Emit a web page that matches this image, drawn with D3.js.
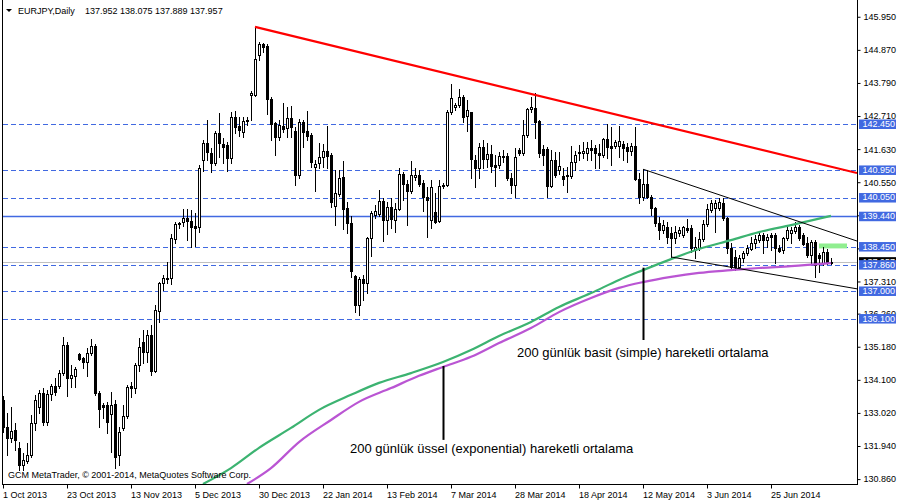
<!DOCTYPE html>
<html><head><meta charset="utf-8">
<script src="https://cdn.jsdelivr.net/npm/d3@7"></script>
<style>
body{margin:0;background:#fff}
svg{display:block}
text{font-family:"Liberation Sans",Arial,sans-serif}
</style>
</head><body>
<svg id="c" width="900" height="500"></svg>
<script>
// ---------------- data ----------------
const opens=[133.44,132.56,132.20,132.46,131.88,131.32,131.45,131.65,132.69,133.21,
133.67,132.72,133.64,133.90,133.90,134.32,135.24,134.16,134.23,134.94,
134.81,134.68,134.98,135.20,133.67,133.28,133.28,132.99,133.31,131.65,
132.53,132.92,133.90,133.83,134.58,135.33,135.01,135.56,134.39,136.35,
137.26,137.39,137.42,138.70,139.19,139.25,139.38,139.28,139.12,139.09,
141.28,141.83,141.50,141.18,142.16,141.80,141.77,141.34,142.68,142.38,
142.19,142.55,143.40,143.40,144.70,145.06,144.99,143.27,142.48,142.03,
142.38,142.32,142.65,142.22,140.79,142.52,142.22,142.09,141.05,141.18,
141.37,141.57,141.44,139.77,140.17,140.72,139.71,139.22,137.49,136.54,
137.39,137.26,138.73,139.48,139.51,139.94,139.32,139.74,139.32,139.68,
140.82,140.49,140.26,140.72,140.79,140.53,140.07,139.32,139.58,139.28,
140.43,140.46,142.84,143.00,143.07,143.33,142.71,142.84,141.28,141.01,
141.70,141.31,141.47,141.11,141.11,141.41,141.41,140.69,140.46,141.60,
141.50,142.09,142.94,142.97,142.55,141.63,141.63,140.43,141.28,140.95,
140.75,140.75,140.75,141.21,141.50,141.50,141.50,141.67,141.67,141.50,
141.44,141.96,141.73,141.73,141.73,141.80,141.70,141.57,141.73,140.66,
140.07,140.49,140.07,139.71,139.22,138.99,139.09,138.89,138.73,138.89,
138.83,139.06,139.06,138.34,138.40,138.70,139.19,139.64,139.71,139.71,
139.87,139.38,138.40,138.11,137.78,138.08,138.24,138.37,138.57,138.66,
138.83,138.66,138.83,138.83,138.40,138.34,138.73,138.89,138.96,139.09,
138.83,138.57,138.17,138.60,138.17,137.92,138.27,137.952];
const highs=[133.57,133.02,133.21,132.69,132.07,131.71,132.04,132.95,133.61,133.77,
133.83,133.77,133.96,134.16,134.42,135.50,135.33,134.58,134.52,134.98,
134.85,135.14,135.43,135.27,133.74,133.34,133.38,133.70,133.44,132.56,
133.28,133.93,134.03,134.65,135.47,135.73,135.73,135.89,136.54,137.29,
137.52,137.95,138.86,139.25,139.25,139.68,139.68,139.64,139.55,141.11,
141.93,142.58,141.67,142.22,142.81,141.99,141.86,142.84,142.87,142.68,
142.68,142.68,143.53,145.62,145.13,145.09,145.06,143.33,142.52,142.58,
143.14,143.01,143.04,142.35,142.61,142.58,142.87,142.16,141.28,141.83,
141.80,142.38,141.50,140.95,140.95,141.24,139.90,139.45,137.52,137.46,
137.52,138.76,139.61,139.81,140.30,140.03,139.90,140.03,139.87,141.01,
140.88,140.62,141.24,141.01,140.95,140.62,140.39,140.62,140.20,140.62,
140.53,142.91,143.76,143.14,143.59,143.40,143.23,142.84,141.44,141.83,
141.93,141.83,141.77,141.44,141.54,141.60,141.50,140.85,141.67,141.67,
142.58,142.97,143.33,143.46,142.58,141.77,141.70,141.60,141.54,141.54,
141.01,141.05,141.73,141.57,141.77,141.86,141.86,141.93,141.77,141.80,
141.99,142.45,142.35,141.93,142.38,141.89,141.83,141.83,142.35,140.85,
140.98,140.95,140.13,139.74,139.41,139.32,139.25,139.09,139.12,139.09,
139.12,139.35,139.15,138.76,138.92,139.32,139.84,139.97,139.97,140.03,
140.03,139.41,138.57,138.34,138.17,138.30,138.50,138.76,138.83,138.92,
138.89,138.86,138.89,138.89,138.50,138.76,139.09,139.09,139.25,139.15,
138.89,138.76,138.66,138.66,138.24,138.44,138.37,138.075];
const lows=[132.40,131.65,132.07,131.81,131.16,131.16,131.39,131.58,132.46,133.02,
132.63,132.63,133.44,133.61,133.83,134.26,133.57,133.87,133.87,134.75,
134.49,134.23,134.91,133.61,132.56,132.85,132.37,131.75,131.22,131.32,
132.46,132.85,133.54,133.67,134.39,134.65,134.68,134.26,134.36,135.99,
137.03,137.26,137.23,138.57,139.06,139.12,138.66,138.43,138.47,138.92,
140.92,141.28,140.88,141.11,141.37,141.18,140.92,141.18,142.16,142.06,
142.03,142.42,142.58,143.36,144.54,144.80,142.78,141.93,141.44,141.93,
142.19,142.03,142.03,140.46,140.69,141.70,141.93,141.05,140.26,141.01,
141.05,141.01,139.74,139.15,140.10,139.02,138.89,137.46,136.31,136.22,
136.71,136.93,138.14,139.38,139.45,138.63,138.86,139.06,138.92,139.64,
139.97,139.15,140.20,140.62,140.43,139.61,138.76,139.06,139.22,139.25,
140.36,140.43,142.78,142.91,143.01,142.52,142.22,140.69,140.39,140.69,
141.01,141.05,140.88,140.43,141.01,141.21,140.62,140.20,140.07,141.44,
141.44,142.03,142.84,141.99,141.37,141.11,140.07,140.39,140.72,140.82,
140.46,140.23,140.69,140.95,141.28,141.34,141.28,141.28,141.01,141.01,
141.37,141.34,141.11,141.67,141.37,141.28,141.21,141.44,140.62,139.87,
139.97,140.03,139.48,139.12,138.70,138.89,138.57,138.11,138.57,138.79,
138.76,138.92,138.27,138.08,138.34,138.63,139.12,139.58,138.92,139.64,
139.32,138.24,137.75,137.69,137.75,137.94,138.18,138.34,138.40,138.60,
138.24,138.44,138.34,137.92,138.27,138.24,138.66,138.57,138.89,138.66,
138.50,138.11,137.92,137.46,137.62,137.85,137.88,137.889];
const closes=[132.56,132.20,132.43,132.14,131.32,131.48,131.65,132.69,133.44,133.67,
132.72,133.64,133.90,133.70,134.32,135.24,134.16,134.26,134.45,134.78,
134.68,134.98,135.20,133.67,133.15,133.21,132.72,133.28,131.58,132.40,
132.92,133.87,133.83,134.58,135.17,135.01,135.56,134.39,136.38,137.26,
137.42,137.42,138.73,139.19,139.22,139.38,139.28,139.09,139.06,141.01,
141.83,141.54,141.18,142.16,141.83,141.70,141.34,142.68,142.35,142.25,
142.55,142.58,143.46,144.57,145.06,144.96,143.27,142.45,142.03,142.42,
142.29,142.65,142.35,140.79,142.52,142.19,142.06,141.21,141.15,141.37,
141.57,141.41,139.90,140.20,140.69,139.68,139.22,137.65,136.54,137.39,
137.26,138.73,139.55,139.61,139.94,139.32,139.74,139.35,139.68,140.82,
140.49,140.26,140.79,140.79,140.49,140.07,139.97,140.39,139.25,140.43,
140.46,142.84,143.30,143.07,143.33,142.68,142.91,141.31,141.01,141.70,
141.31,141.47,141.08,141.05,141.41,141.37,140.69,140.46,141.37,141.50,
142.09,142.94,143.00,142.52,141.50,141.44,140.43,141.28,140.79,141.08,
140.66,140.79,141.21,141.44,141.54,141.57,141.67,141.60,141.50,141.44,
141.96,141.70,141.67,141.86,141.89,141.67,141.57,141.73,140.66,140.07,
140.49,140.07,139.71,139.22,138.99,139.15,138.76,138.73,138.92,138.99,
139.09,138.99,138.40,138.43,138.70,139.19,139.68,139.87,139.87,139.90,
139.38,138.40,137.78,137.78,138.08,138.24,138.40,138.57,138.70,138.83,
138.66,138.76,138.76,138.40,138.30,138.73,138.99,138.99,139.09,138.73,
138.53,138.17,138.60,137.85,138.08,138.27,137.95,137.957];

const tickBars=[0,16,32,48,64,80,96,112,128,144,160,176,192];
const tickLabels=["1 Oct 2013","23 Oct 2013","13 Nov 2013","5 Dec 2013","30 Dec 2013","22 Jan 2014","13 Feb 2014","7 Mar 2014","28 Mar 2014","18 Apr 2014","12 May 2014","3 Jun 2014","25 Jun 2014"];
// price scale labels; those fully covered by the level boxes in the reference get a tick mark only
const priceTicks=[145.95,144.87,143.79,142.71,141.63,140.55,139.47,138.39,137.31,136.26,135.18,134.10,133.02,131.94,130.86];
const hiddenTicks=[139.47,138.39];

const dashedLevels=[142.45,140.95,140.05,138.45,137.86,137.00,136.10];
const solidLevels=[139.44];
const bidPrice=137.957;

const smaBars=[50,57,64,72,79,87,94,102,110,117,124,132,139,147,154,160,167,174,182,189,197,207];
const smaValues=[130.70,131.22,131.88,132.53,133.12,133.61,134.00,134.32,134.68,135.07,135.53,135.99,136.48,136.93,137.36,137.68,138.04,138.37,138.66,138.92,139.15,139.45];
const emaBars=[61,67,74,82,89,97,104,110,117,124,132,139,147,154,160,167,174,182,189,197,207];
const emaValues=[130.70,131.22,132.07,132.79,133.38,133.83,134.23,134.52,134.85,135.30,135.79,136.31,136.77,137.10,137.29,137.46,137.59,137.68,137.75,137.81,137.91];

const redLineBars=[63,213.5], redLinePrices=[145.62,140.85];
const upperWedgeBars=[160.1,213.5], upperWedgePrices=[140.97,138.63];
const lowerWedgeBars=[167,213.5], lowerWedgePrices=[138.11,137.07];
const zoneBars=[204,211], zonePrices=[138.55,138.39];

const noteTexts=["200 günlük basit (simple) hareketli ortalama","200 günlük üssel (exponential) hareketli ortalama"];
const noteLineBars=[160,110];
const noteLineFrom=[137.76,134.55];
const noteLineTo=[135.40,132.14];
const noteTextBars=[128.5,86.75];
const noteTextPrices=[134.85,131.71];

const titleName="EURJPY,Daily";
const titleValues="137.952 138.075 137.889 137.957";
const copyright="GCM MetaTrader, © 2001-2014, MetaQuotes Software Corp.";

// ---------------- chart ----------------
const svg=d3.select("#c");
const x=d3.scaleLinear().domain([0,213.5]).range([3,857]);
const y=d3.scaleLinear().domain([130.86,145.95]).range([479.1,16.76]);
const ry=p=>Math.round(y(p))+0.5;

svg.append("defs").append("clipPath").attr("id","clip")
  .append("rect").attr("x",3).attr("y",0).attr("width",854).attr("height",484);
const plot=svg.append("g").attr("clip-path","url(#clip)");

// horizontal levels
plot.selectAll(".dl").data(dashedLevels).join("line")
  .attr("x1",3).attr("x2",857).attr("y1",d=>ry(d)).attr("y2",d=>ry(d))
  .attr("stroke","#4169e1").attr("stroke-dasharray","5,3").attr("stroke-width",1);
plot.selectAll(".sl").data(solidLevels).join("line")
  .attr("x1",3).attr("x2",857).attr("y1",d=>ry(d)).attr("y2",d=>ry(d))
  .attr("stroke","#4169e1").attr("stroke-width",1.3);
plot.append("line").attr("x1",3).attr("x2",857).attr("y1",ry(bidPrice)).attr("y2",ry(bidPrice))
  .attr("stroke","#c0c0c0").attr("stroke-width",1);

// zone rectangle
plot.append("rect").attr("x",x(zoneBars[0])).attr("width",x(zoneBars[1])-x(zoneBars[0]))
  .attr("y",y(zonePrices[0])).attr("height",y(zonePrices[1])-y(zonePrices[0]))
  .attr("fill","#90ee90");

// candles
const bars=d3.range(opens.length);
const cg=plot.append("g").attr("shape-rendering","crispEdges");
bars.forEach(i=>{
  const cx=Math.round(x(i));
  const o=opens[i],c=closes[i];
  cg.append("line").attr("x1",cx+0.5).attr("x2",cx+0.5)
    .attr("y1",Math.round(y(highs[i]))).attr("y2",Math.round(y(lows[i]))+1)
    .attr("stroke","#000").attr("stroke-width",1);
  const t=Math.round(y(Math.max(o,c))), b=Math.round(y(Math.min(o,c)));
  if(c>o){
    cg.append("rect").attr("x",cx-0.5).attr("y",t+0.5).attr("width",2).attr("height",Math.max(b-t,1))
      .attr("fill","#fff").attr("stroke","#000").attr("stroke-width",1);
  } else {
    cg.append("rect").attr("x",cx-1).attr("y",t).attr("width",3).attr("height",Math.max(b-t,1)+(b-t<1?0:1))
      .attr("fill","#000");
  }
});

// moving averages
const line=d3.line().x(d=>x(d[0])).y(d=>y(d[1])).curve(d3.curveMonotoneX);
plot.append("path").datum(smaBars.map((b,i)=>[b,smaValues[i]])).attr("d",line)
  .attr("fill","none").attr("stroke","#3cb371").attr("stroke-width",2.2);
plot.append("path").datum(emaBars.map((b,i)=>[b,emaValues[i]])).attr("d",line)
  .attr("fill","none").attr("stroke","#ba55d3").attr("stroke-width",2.2);

// trend lines
const seg=(bs,ps)=>bs.map((b,i)=>[b,ps[i]]);
const sline=d3.line().x(d=>x(d[0])).y(d=>y(d[1]));
plot.append("path").datum(seg(redLineBars,redLinePrices)).attr("d",sline)
  .attr("stroke","#ff0000").attr("stroke-width",2.2).attr("fill","none");
plot.append("path").datum(seg(upperWedgeBars,upperWedgePrices)).attr("d",sline)
  .attr("stroke","#000").attr("stroke-width",1).attr("fill","none");
plot.append("path").datum(seg(lowerWedgeBars,lowerWedgePrices)).attr("d",sline)
  .attr("stroke","#000").attr("stroke-width",1).attr("fill","none");

// annotation lines & texts
noteTexts.forEach((t,i)=>{
  const lx=Math.round(x(noteLineBars[i]))+0.5;
  plot.append("line").attr("x1",lx).attr("x2",lx).attr("y1",y(noteLineFrom[i])).attr("y2",y(noteLineTo[i]))
    .attr("stroke","#000").attr("stroke-width",2);
  svg.append("text").attr("x",x(noteTextBars[i])).attr("y",y(noteTextPrices[i]))
    .attr("font-size","13px").attr("fill","#000").text(t);
});

// frame
svg.append("line").attr("x1",2.5).attr("x2",2.5).attr("y1",0).attr("y2",484.5).attr("stroke","#000");
svg.append("line").attr("x1",857.5).attr("x2",857.5).attr("y1",0).attr("y2",484.5).attr("stroke","#000");
svg.append("line").attr("x1",2).attr("x2",858).attr("y1",484.5).attr("y2",484.5).attr("stroke","#000");

// right axis
const ya=svg.append("g").attr("transform","translate(857.5,0)")
  .call(d3.axisRight(y).tickValues(priceTicks).tickSize(3).tickPadding(3)
    .tickFormat(d=>hiddenTicks.includes(d)?"":d3.format(".3f")(d)));
ya.select(".domain").remove();
ya.selectAll("text").attr("font-size","9px").attr("font-family","Liberation Sans, Arial, sans-serif").attr("fill","#000");
ya.selectAll("line").attr("stroke","#000");

// bottom axis
const xa=svg.append("g").attr("transform","translate(0,484.5)")
  .call(d3.axisBottom(x).tickValues(tickBars).tickSize(4).tickPadding(3).tickFormat((d,i)=>tickLabels[i]));
xa.select(".domain").remove();
xa.selectAll("text").attr("font-size","9px").attr("font-family","Liberation Sans, Arial, sans-serif")
  .attr("text-anchor","start").attr("dx","-0.5").attr("fill","#000");
xa.selectAll("line").attr("stroke","#000");

// price boxes
const bb=svg.append("g");
bb.append("rect").attr("x",859).attr("y",y(bidPrice)-4.5).attr("width",37).attr("height",9.5).attr("fill","#000");
bb.append("text").attr("x",862.5).attr("y",y(bidPrice)).attr("dy","0.33em").attr("font-size","9px").attr("fill","#fff").text(d3.format(".3f")(bidPrice));
dashedLevels.concat(solidLevels).forEach(p=>{
  bb.append("rect").attr("x",859).attr("y",y(p)-4.5).attr("width",37).attr("height",9.5).attr("fill","#4169e1");
  bb.append("text").attr("x",862.5).attr("y",y(p)).attr("dy","0.33em").attr("font-size","9px").attr("fill","#fff").text(d3.format(".3f")(p));
});

// title
svg.append("path").attr("d","M6,9 L12,9 L9,12 Z").attr("fill","#000");
svg.append("text").attr("x",18).attr("y",14).attr("font-size","9px").text(titleName);
svg.append("text").attr("x",85).attr("y",14).attr("font-size","9px").text(titleValues);
svg.append("text").attr("x",8).attr("y",478).attr("font-size","9px").text(copyright);
</script>
</body></html>
